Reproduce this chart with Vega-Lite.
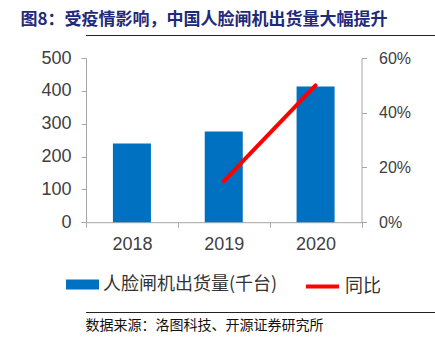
{
  "$schema": "https://vega.github.io/schema/vega-lite/v6.json",
  "padding": {"left": 20, "top": 11, "right": 5, "bottom": 5},
  "title": {
    "text": "图8：受疫情影响，中国人脸闸机出货量大幅提升",
    "anchor": "start",
    "fontSize": 17,
    "font": "Noto Sans CJK SC",
    "fontWeight": "bold",
    "color": "#1F2A7A",
    "offset": 6
  },
  "spacing": 13,
  "align": "none",
  "resolve": {"legend": {"fill": "independent", "stroke": "independent"}},
  "vconcat": [
    {
      "data": {"values": [{"level": 0}]},
      "mark": {"type": "rule", "color": "#222222", "strokeWidth": 1},
      "encoding": {"y": {"field": "level", "type": "quantitative", "axis": null}},
      "width": 410,
      "height": 1,
      "view": {"stroke": null}
    },
    {
      "width": 275.5,
      "height": 164.2,
      "view": {"stroke": null},
      "data": {
        "values": [
          {"year": "2018", "shipments": 240, "yoy": null},
          {"year": "2019", "shipments": 276, "yoy": 0.15},
          {"year": "2020", "shipments": 413, "yoy": 0.50}
        ]
      },
      "encoding": {
        "x": {
          "field": "year",
          "type": "ordinal",
          "scale": {"paddingInner": 0, "paddingOuter": 0},
          "axis": {
            "title": null,
            "labelAngle": 0,
            "tickBand": "extent",
            "labelPadding": 8,
            "labelFont": "Liberation Sans",
            "labelFontSize": 18
          }
        }
      },
      "layer": [
        {
          "mark": {"type": "bar", "width": {"band": 0.414}},
          "encoding": {
            "y": {
              "field": "shipments",
              "type": "quantitative",
              "scale": {"domain": [0, 500]},
              "axis": {
                "title": "\u00a0",
                "titleFontSize": 10,
                "titlePadding": 10.5,
                "values": [0, 100, 200, 300, 400, 500],
                "labelPadding": 10,
                "labelFont": "Liberation Sans",
                "labelFontSize": 18
              }
            },
            "fill": {
              "datum": "人脸闸机出货量(千台)",
              "type": "nominal",
              "scale": {"range": ["#0070C0"]},
              "legend": {
                "symbolType": "M-1,-0.303H1V0.303H-1Z",
                "symbolStrokeWidth": 0
              }
            }
          }
        },
        {
          "transform": [{"filter": "datum.yoy != null"}],
          "mark": {"type": "line", "strokeWidth": 4, "strokeCap": "round"},
          "encoding": {
            "y": {
              "field": "yoy",
              "type": "quantitative",
              "scale": {"domain": [0, 0.6]},
              "axis": {
                "title": null,
                "orient": "right",
                "format": ".0%",
                "values": [0, 0.2, 0.4, 0.6],
                "labelPadding": 12,
                "labelFont": "Liberation Sans",
                "labelFontSize": 16
              }
            },
            "stroke": {
              "datum": "同比",
              "type": "nominal",
              "scale": {"range": ["#FF0000"]},
              "legend": {"symbolType": "stroke", "symbolStrokeWidth": 4}
            }
          }
        }
      ],
      "resolve": {"scale": {"y": "independent"}}
    },
    {
      "data": {"values": [{"level": 0}]},
      "mark": {"type": "rule", "color": "#222222", "strokeWidth": 1},
      "encoding": {"y": {"field": "level", "type": "quantitative", "axis": null}},
      "width": 410,
      "height": 1,
      "view": {"stroke": null},
      "title": {
        "text": "数据来源：洛图科技、开源证券研究所",
        "orient": "bottom",
        "anchor": "start",
        "fontSize": 14,
        "font": "Noto Sans CJK SC",
        "fontWeight": "normal",
        "color": "#111111",
        "offset": 6
      }
    }
  ],
  "config": {
    "axis": {
      "grid": false,
      "domainColor": "#A6A6A6",
      "tickColor": "#A6A6A6",
      "tickSize": 5,
      "labelColor": "#404040"
    },
    "legend": {
      "orient": "bottom",
      "direction": "horizontal",
      "title": null,
      "labelFont": "Noto Sans CJK SC",
      "labelFontSize": 18,
      "labelColor": "#333333",
      "labelLimit": 400,
      "symbolSize": 1089,
      "labelOffset": 4,
      "offset": 11,
      "padding": 3,
      "layout": {"bottom": {"anchor": "middle", "direction": "horizontal", "margin": 20}}
    }
  }
}
